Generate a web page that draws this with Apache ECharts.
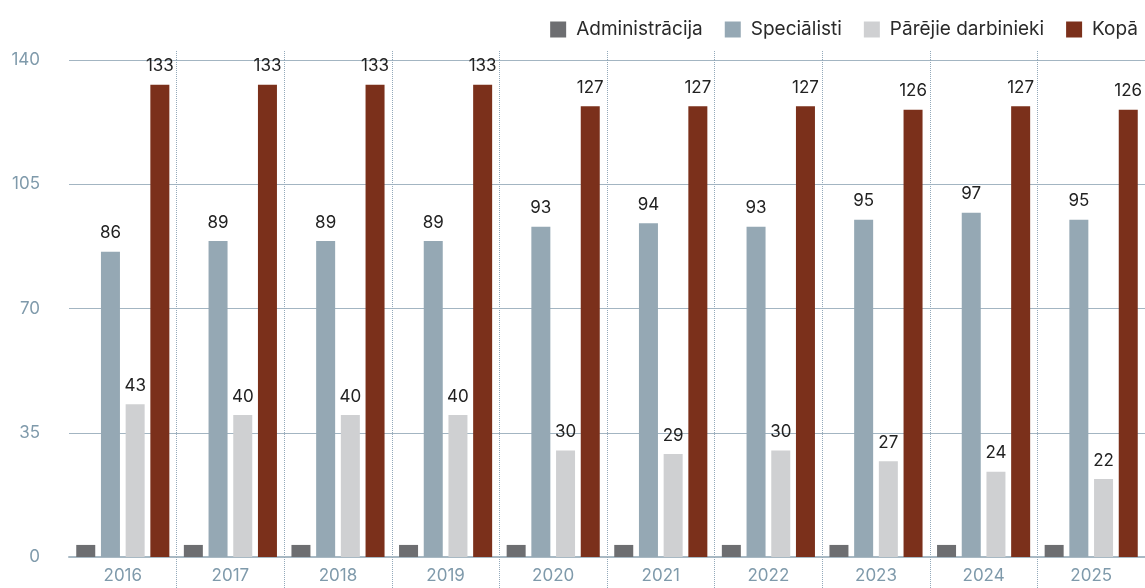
<!DOCTYPE html>
<html>
<head>
<meta charset="utf-8">
<script src="https://cdn.jsdelivr.net/npm/echarts@6/dist/echarts.min.js"></script>
<style>
html,body{margin:0;padding:0;background:#fff;}
#chart{width:1145px;height:588px;}
</style>
</head>
<body>
<div id="chart"></div>
<script>
const categories = ['2016','2017','2018','2019','2020','2021','2022','2023','2024','2025'];
const administracija = [3.4,3.4,3.4,3.4,3.4,3.4,3.4,3.4,3.4,3.4];
const specialisti = [86,89,89,89,93,94,93,95,97,95];
const parejie = [43,40,40,40,30,29,30,27,24,22];
const kopa = [133,133,133,133,127,127,127,126,127,126];
const seriesNames = ['Administrācija','Speciālisti','Pārējie darbinieki','Kopā'];

const FONT = 'Inter';
const sepColor = '#93a9ba';
const labelStyle = {show:true, position:'top', distance:10, color:'#222', fontSize:17, fontFamily:FONT};
const boundaries = categories.map(function(_, i){ return i + 1; });

function sepAxis(position, len){
  return {
    type:'value', position:position, min:0, max:categories.length,
    axisLine:{show:false}, axisLabel:{show:false}, splitLine:{show:false},
    axisTick:{show:true, length:len, customValues:boundaries,
      lineStyle:{color:sepColor, type:'dotted', width:1}}
  };
}

const chart = echarts.init(document.getElementById('chart'), null, {renderer:'canvas'});
chart.setOption({
  animation:false,
  textStyle:{fontFamily:FONT},
  legend:{
    top:15, right:2, itemWidth:16, itemHeight:16, itemGap:22,
    icon:'rect',
    textStyle:{fontSize:19, color:'#2a2a2a', fontFamily:FONT, padding:[0,0,0,5]},
    data:seriesNames
  },
  grid:{left:69, right:0, top:60, bottom:31, containLabel:false},
  xAxis:[{
    type:'category', data:categories, position:'bottom',
    axisLine:{show:true, lineStyle:{color:'#a8b9c4', width:2}},
    axisTick:{show:false},
    axisLabel:{color:'#7f9aab', fontSize:17, fontFamily:FONT, margin:10},
    splitLine:{show:true, showMinLine:false, interval:0, lineStyle:{color:sepColor, type:'dotted', width:1}}
  },
  sepAxis('bottom', 31),
  sepAxis('top', 10)
  ],
  yAxis:{
    type:'value', min:0, max:140, interval:35,
    axisLine:{show:false}, axisTick:{show:false},
    axisLabel:{color:'#7f9aab', fontSize:17, fontFamily:FONT, margin:29},
    splitLine:{show:true, lineStyle:{color:'#a3b5c2', width:1}}
  },
  series:[
    {name:seriesNames[0], type:'bar', data:administracija, barWidth:19, barGap:'30%',
     itemStyle:{color:'#6d6e71'}},
    {name:seriesNames[1], type:'bar', data:specialisti, barWidth:19, barGap:'30%',
     itemStyle:{color:'#95a8b4'}, label:labelStyle},
    {name:seriesNames[2], type:'bar', data:parejie, barWidth:19, barGap:'30%',
     itemStyle:{color:'#cfd0d2'}, label:labelStyle},
    {name:seriesNames[3], type:'bar', data:kopa, barWidth:19, barGap:'30%',
     itemStyle:{color:'#7b301b'}, label:labelStyle}
  ]
});
</script>
</body>
</html>
